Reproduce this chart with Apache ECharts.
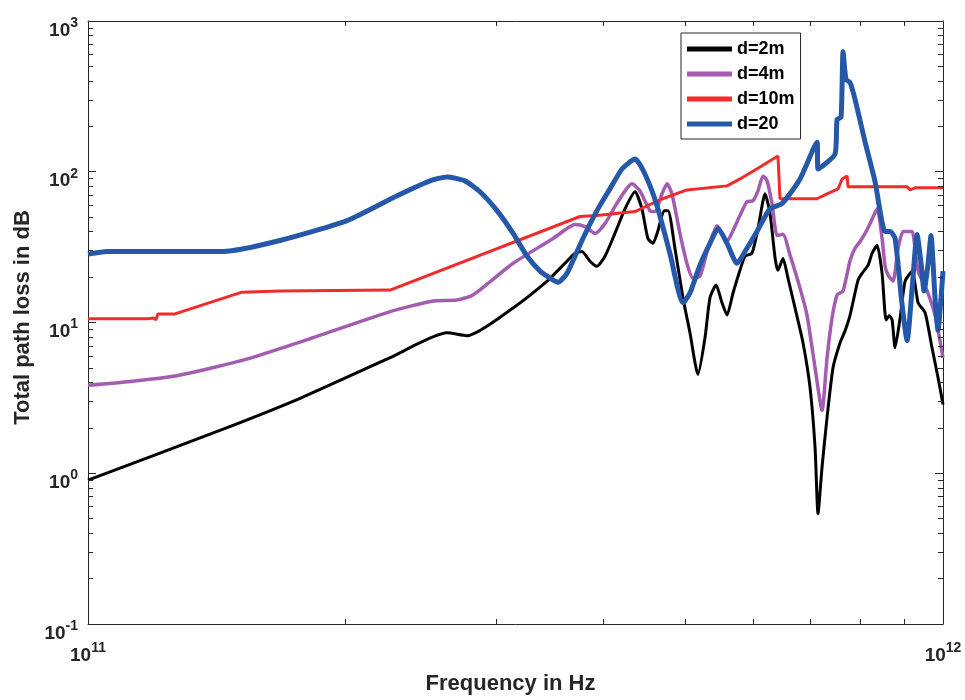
<!DOCTYPE html>
<html>
<head>
<meta charset="utf-8">
<script src="https://cdn.jsdelivr.net/npm/echarts@6/dist/echarts.min.js"></script>
<style>
  html, body { margin: 0; padding: 0; background: #fff; }
  #chart { width: 965px; height: 700px; }
</style>
</head>
<body>
<div id="chart"></div>
<script>
// [frequency in GHz, total path loss in dB]
var lossD2 = [[100,0.90],[143.9,1.96],[177.0,3.14],[225.6,5.84],[263.0,8.54],[277.5,8.17],[314.2,12.5],[344.3,18.8],
  [361.3,24.7],[371.2,28.8],[378.2,29.6],[386.5,25.5],[393.8,23.6],[402.4,27.5],[413.3,39.0],[424.7,56.8],[436.3,73.7],
  [444.5,56.8],[451.7,36.1],[457.9,33.5],[464.2,40.8],[471.8,55.2],[476.9,55.2],[485.8,31.1],[496.4,14.6],[505.9,8.54],
  [516.9,4.52],[526.8,7.92],[533.9,14.6],[542.7,17.7],[551.5,13.5],[559.0,11.2],[568.1,15.7],[578.8,22.2],[586.6,27.5],
  [597.8,28.8],[607.6,42.0],[619.3,71.4],[627.6,52.8],[636.3,26.6],[641.2,22.2],[649.9,26.6],[658.7,19.7],[671.3,12.5],
  [685.9,7.34],[699.0,3.71],[708.5,1.49],[714.2,0.54],[722.0,1.10],[731.8,2.35],[743.7,5.02],[757.9,7.34],[768.1,8.80],
  [778.6,11.2],[795.5,19.1],[804.2,21.2],[817.4,24.0],[826.2,28.8],[837.4,32.5],[848.7,21.2],[857.9,10.4],[864.9,11.1],
  [871.9,10.4],[878.9,6.81],[890.9,10.7],[903.0,18.8],[920.2,21.9],[935.2,13.5],[953.0,11.6],[970.8,6.81],[986.6,4.32],
  [1000,2.86]];
var lossD4 = [[100,3.83],[112.0,4.06],[127.4,4.45],[152.6,5.67],[183.3,7.92],[225.6,11.8],[253.2,13.9],[270.1,14.1],
  [282.0,15.2],[314.2,24.7],[349.9,36.1],[363.3,42.0],[371.2,44.6],[381.3,43.3],[391.8,39.0],[402.4,45.3],[413.3,58.7],
  [424.7,74.7],[432.7,83.1],[442.1,74.7],[454.2,55.2],[460.4,54.4],[469.2,71.4],[475.6,83.1],[481.9,71.4],[492.4,39.0],
  [501.7,24.7],[510.0,19.7],[519.7,20.3],[531.1,31.1],[544.2,43.9],[551.5,39.0],[559.0,34.5],[568.1,40.8],[578.8,51.2],
  [589.8,63.3],[599.4,64.3],[607.6,74.7],[615.9,93.8],[622.6,87.0],[631.0,61.5],[639.7,37.8],[649.9,38.5],[662.3,28.0],
  [680.4,16.9],[693.3,11.2],[708.5,5.02],[722.0,2.61],[731.8,5.84],[741.7,10.7],[751.8,15.2],[764.0,16.2],[778.6,25.8],
  [789.1,31.1],[799.9,34.5],[810.8,39.0],[821.7,45.3],[837.4,56.8],[848.7,36.1],[855.6,23.6],[862.6,20.6],[874.2,18.8],
  [886.0,31.1],[898.1,40.2],[910.3,40.2],[920.2,40.2],[935.2,21.9],[958.1,16.2],[978.7,11.2],[1000,5.84]];
var lossD10 = [[100,10.6],[117.5,10.6],[119.4,10.7],[120.1,10.4],[120.7,11.4],[126.4,11.4],[151.4,15.9],[167.7,16.2],
  [225.6,16.4],[376.2,50.5],[393.8,51.2],[436.3,54.4],[466.7,65.2],[501.7,75.8],[559.0,80.6],[578.8,89.6],[610.9,107.6],
  [641.2,127.1],[644.7,66.2],[712.3,66.2],[731.8,71.4],[753.9,77.0],[762.0,89.6],[772.3,93.8],[774.4,79.4],[907.9,79.4],
  [915.2,75.8],[927.6,78.3],[1000,78.3]];
var lossD20 = [[100,28.4],[105.3,29.6],[143.9,29.6],[167.7,35.0],[200.9,47.4],[229.9,69.3],[251.2,87.0],[263.0,92.4],
  [276.0,87.0],[287.4,73.7],[300.9,55.2],[314.2,39.0],[326.3,27.5],[337.9,21.9],[347.1,19.7],[354.7,18.5],[363.3,21.2],
  [379.2,36.1],[393.8,55.2],[407.8,77.0],[421.3,104.3],[436.3,121.4],[448.1,96.6],[462.9,59.6],[479.3,28.8],[496.4,13.5],
  [505.9,15.7],[519.7,24.0],[533.9,33.5],[545.7,42.0],[559.0,33.5],[574.3,24.7],[589.8,31.1],[605.9,40.2],[627.6,56.8],
  [648.2,61.5],[680.4,89.6],[712.3,157.2],[714.2,104.3],[747.7,131.0],[751.8,222.8],[759.9,229.6],[764.0,625],
  [770.2,408.9],[778.6,390.9],[789.1,302.0],[810.8,157.2],[832.9,85.6],[855.6,40.2],[867.2,40.2],[878.9,36.1],
  [895.7,13.1],[907.9,7.57],[920.2,16.9],[932.6,38.4],[942.7,24.7],[950.4,16.2],[960.7,24.7],[968.2,37.8],[978.7,14.6],
  [986.6,8.9],[994.7,14.6],[1000,21.9]];

var names = ['d=2m', 'd=4m', 'd=10m', 'd=20'];
var colors = ['#000000', '#a45cb0', '#f02b2b', '#2558a8'];
var widths = [3, 3.5, 3, 5];
var smoothing = [0.2, 0.2, 0, 0.2];

// minor tick positions (MATLAB style 2..9 per decade)
var xMinorTicks = [2e11, 3e11, 4e11, 5e11, 6e11, 7e11, 8e11, 9e11];
var yMinorTicks = [0.2, 0.3, 0.4, 0.5, 0.6, 0.7, 0.8, 0.9, 2, 3, 4, 5, 6, 7, 8, 9,
  20, 30, 40, 50, 60, 70, 80, 90, 200, 300, 400, 500, 600, 700, 800, 900];

var font = "'Liberation Sans', Arial, sans-serif";
var axisColor = '#262626';

var chart = echarts.init(document.getElementById('chart'));

function toHz(arr) {
  return arr.map(function (p) { return [p[0] * 1e9, p[1]]; });
}
function powLabel(v) {
  var e = Math.round(Math.log10(v));
  return '{b|10}{s|' + e + '}';
}
var labelRich = {
  b: { fontSize: 19, fontWeight: 'bold', fontFamily: font, color: '#262626', lineHeight: 24, verticalAlign: 'bottom' },
  s: { fontSize: 14, fontWeight: 'bold', fontFamily: font, color: '#262626', lineHeight: 14, verticalAlign: 'top' }
};

// short minor tick segments, 5px long in data units
var tx = Math.pow(10, 5 / 855), ty = Math.pow(10, 5 / 151.75);
var tickSegs = [];
xMinorTicks.forEach(function (x) {
  tickSegs.push([{ coord: [x, 0.1] }, { coord: [x, 0.1 * ty] }]);
  tickSegs.push([{ coord: [x, 1000] }, { coord: [x, 1000 / ty] }]);
});
yMinorTicks.forEach(function (y) {
  tickSegs.push([{ coord: [1e11, y] }, { coord: [1e11 * tx, y] }]);
  tickSegs.push([{ coord: [1e12, y] }, { coord: [1e12 / tx, y] }]);
});

var lossData = [lossD2, lossD4, lossD10, lossD20];
var series = lossData.map(function (d, i) {
  return {
    name: names[i],
    type: 'line',
    data: toHz(d),
    symbol: 'none',
    smooth: smoothing[i],
    color: colors[i],
    lineStyle: { color: colors[i], width: widths[i] }
  };
});
series.unshift({
  name: 'ticks',
  type: 'line',
  data: [],
  silent: true,
  markLine: {
    silent: true,
    symbol: ['none', 'none'],
    label: { show: false },
    lineStyle: { color: axisColor, width: 1, type: 'solid' },
    data: tickSegs
  }
});

var frameAxis = {
  type: 'log', logBase: 10,
  axisLine: { onZero: false, lineStyle: { color: axisColor, width: 1 } },
  axisTick: { inside: true, length: 8, lineStyle: { color: axisColor } },
  splitLine: { show: false }
};

chart.setOption({
  animation: false,
  backgroundColor: '#fff',
  grid: { left: 88, right: 22, top: 21, bottom: 72 },
  legend: {
    data: names,
    orient: 'vertical',
    left: 681, top: 33,
    padding: [7, 6, 6, 6],
    itemGap: 7,
    itemWidth: 45, itemHeight: 5,
    icon: 'rect',
    borderColor: '#262626', borderWidth: 1,
    backgroundColor: '#fff',
    textStyle: { fontSize: 18, fontWeight: 'bold', fontFamily: font, color: '#000', lineHeight: 18 }
  },
  xAxis: [
    Object.assign({}, frameAxis, {
      min: 1e11, max: 1e12, position: 'bottom',
      axisLabel: { formatter: powLabel, rich: labelRich, margin: 17 },
      name: 'Frequency in Hz', nameLocation: 'middle', nameGap: 49,
      nameTextStyle: { fontSize: 22, fontWeight: 'bold', fontFamily: font, color: '#262626', padding: [0, 10, 0, 0] }
    }),
    Object.assign({}, frameAxis, { min: 1e11, max: 1e12, position: 'top', axisLabel: { show: false } })
  ],
  yAxis: [
    Object.assign({}, frameAxis, {
      min: 0.1, max: 1000, position: 'left',
      axisLabel: { formatter: powLabel, rich: labelRich, margin: 10, padding: [14, 0, 0, 0] },
      name: 'Total path loss in dB', nameLocation: 'middle', nameGap: 54,
      nameTextStyle: { fontSize: 22, fontWeight: 'bold', fontFamily: font, color: '#262626', padding: [0, 0, 0, 10] }
    }),
    Object.assign({}, frameAxis, { min: 0.1, max: 1000, position: 'right', axisLabel: { show: false } })
  ],
  series: series
});
</script>
</body>
</html>
